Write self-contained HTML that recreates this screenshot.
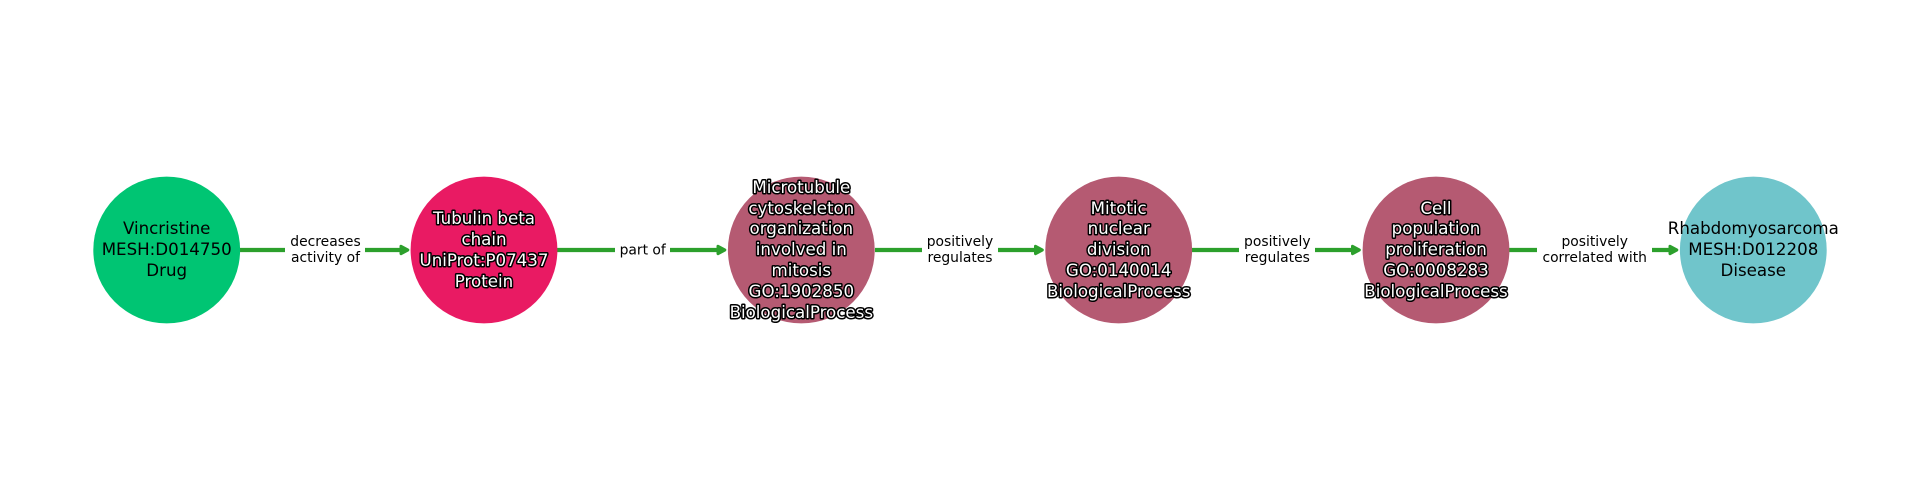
<!DOCTYPE html>
<html><head><meta charset="utf-8"><style>
html,body{margin:0;padding:0;background:#fff;width:1920px;height:500px;overflow:hidden}
svg{display:block}
text{font-family:"DejaVu Sans",sans-serif;text-anchor:middle}
.n{font-size:16.67px;fill:#000}
.h{font-size:16.67px;fill:#fff;stroke:#000;stroke-width:3px;paint-order:stroke;stroke-linejoin:round}
.e{font-size:13.89px;fill:#000}
.l{stroke:#2ca02c;stroke-width:4.2;fill:none}
.a{fill:#2ca02c;stroke:#2ca02c;stroke-width:3;stroke-linejoin:round}
</style></head><body>
<svg width="1920" height="500" viewBox="0 0 1920 500" xmlns="http://www.w3.org/2000/svg">
<rect width="1920" height="500" fill="#fff"/>
<g class="l">
<path class="l" d="M240 250H285M365 250H402"/>
<path class="l" d="M557 250H615M670 250H719"/>
<path class="l" d="M875 250H922M998 250H1036"/>
<path class="l" d="M1192 250H1239M1315 250H1354"/>
<path class="l" d="M1509 250H1537M1652 250H1671"/>
</g>
<polygon class="a" points="401,246.3 407.8,250 401,253.7"/>
<polygon class="a" points="718,246.3 724.8,250 718,253.7"/>
<polygon class="a" points="1035.5,246.3 1042.3,250 1035.5,253.7"/>
<polygon class="a" points="1352.5,246.3 1359.3,250 1352.5,253.7"/>
<polygon class="a" points="1670,246.3 1676.8,250 1670,253.7"/>
<circle cx="166.7" cy="250" r="73.4" fill="#00c573"/>
<circle cx="484" cy="250" r="73.4" fill="#e91a63"/>
<circle cx="801.3" cy="250" r="73.4" fill="#b55a72"/>
<circle cx="1118.7" cy="250" r="73.4" fill="#b55a72"/>
<circle cx="1436" cy="250" r="73.4" fill="#b55a72"/>
<circle cx="1753.3" cy="250" r="73.4" fill="#70c5cb"/>
<g class="n">
<text x="166.7" y="234">Vincristine</text>
<text x="166.7" y="255">MESH:D014750</text>
<text x="166.7" y="276">Drug</text>
<text x="1753.3" y="234">Rhabdomyosarcoma</text>
<text x="1753.3" y="255">MESH:D012208</text>
<text x="1753.3" y="276">Disease</text>
</g>
<g class="h">
<text x="484" y="224">Tubulin beta</text>
<text x="484" y="245">chain</text>
<text x="484" y="266">UniProt:P07437</text>
<text x="484" y="287">Protein</text>
<text x="801.3" y="193">Microtubule</text>
<text x="801.3" y="214">cytoskeleton</text>
<text x="801.3" y="234">organization</text>
<text x="801.3" y="255">involved in</text>
<text x="801.3" y="276">mitosis</text>
<text x="801.3" y="297">GO:1902850</text>
<text x="801.3" y="318">BiologicalProcess</text>
<text x="1118.7" y="214">Mitotic</text>
<text x="1118.7" y="234">nuclear</text>
<text x="1118.7" y="255">division</text>
<text x="1118.7" y="276">GO:0140014</text>
<text x="1118.7" y="297">BiologicalProcess</text>
<text x="1436" y="214">Cell</text>
<text x="1436" y="234">population</text>
<text x="1436" y="255">proliferation</text>
<text x="1436" y="276">GO:0008283</text>
<text x="1436" y="297">BiologicalProcess</text>
</g>
<g class="e">
<text x="325.5" y="246">decreases</text>
<text x="325.5" y="262">activity of</text>
<text x="642.7" y="254.5">part of</text>
<text x="960" y="246">positively</text>
<text x="960" y="262">regulates</text>
<text x="1277.3" y="246">positively</text>
<text x="1277.3" y="262">regulates</text>
<text x="1594.7" y="246">positively</text>
<text x="1594.7" y="262">correlated with</text>
</g>
</svg>
</body></html>
